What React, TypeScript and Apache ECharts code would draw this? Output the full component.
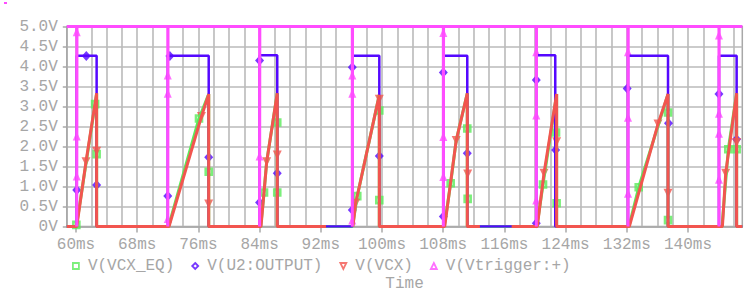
import React, { useEffect, useRef } from 'react';
import * as echarts from 'echarts';

// ---------- data (time in ms, value in V) ----------
const seriesNames = ['V(VCX_EQ)', 'V(U2:OUTPUT)', 'V(VCX)', 'V(Vtrigger:+)'];

const xTickLabels = [60, 68, 76, 84, 92, 100, 108, 116, 124, 132, 140];
const xGridValues = [60, 62, 64, 66, 68, 70, 72, 74, 76, 78, 80, 82, 84, 86, 88, 90, 92, 94, 96, 98, 100, 102, 104, 106, 108, 110, 112, 114, 116, 118, 120, 122, 124, 126, 128, 130, 132, 134, 136, 138, 140, 142, 144, 146];

const timeMin = 58.8;
const timeMax = 147.1;

const vcxEq = [
  [58.8, 0], [60.05, 0], [62.5, 3.06], [62.7, 3.33], [62.7, 0],
  [72.1, 0], [76.08, 2.7], [77.35, 3.31], [77.35, 0],
  [84.15, 0], [84.58, 0.85], [84.93, 1.62], [86.31, 3.33], [86.31, 0],
  [96.15, 0], [96.77, 0.76], [99.65, 3.29], [99.65, 0],
  [108.15, 0], [108.98, 1.08], [109.7, 2.15], [111.15, 3.33], [111.15, 0],
  [120.25, 0], [121.05, 1.05], [122.83, 3.31], [122.83, 0],
  [132.28, 0], [133.56, 0.98], [137.39, 3.31], [137.39, 0],
  [144.45, 0], [145.27, 1.93], [146.36, 3.33], [146.36, 0], [147.1, 0],
];

const u2Output = [
  [58.8, 0], [60.1, 0], [60.1, 4.27], [62.7, 4.27], [62.7, 0],
  [72.0, 0], [72.0, 4.27], [77.35, 4.27], [77.35, 0],
  [84.0, 0], [84.0, 4.28], [86.31, 4.28], [86.31, 0],
  [96.12, 0], [96.12, 4.27], [99.65, 4.27], [99.65, 0],
  [108.02, 0], [108.02, 4.27], [111.15, 4.27], [111.15, 0],
  [120.17, 0], [120.17, 4.28], [122.65, 4.28], [122.65, 0],
  [132.16, 0], [132.16, 4.27], [137.39, 4.27], [137.39, 0],
  [144.05, 0], [144.05, 4.27], [146.36, 4.27], [146.36, 0], [147.1, 0],
];

const vcx = [
  [58.8, 0], [60.1, 0], [61.31, 1.62], [62.7, 3.33], [62.7, 0],
  [72.16, 0], [76.4, 2.75], [77.35, 3.31], [77.35, 0],
  [84.18, 0], [84.58, 0.85], [84.93, 1.62], [86.31, 3.33], [86.31, 0], [92.68, 0], [94.4, '-'],
  [96.2, 0], [96.56, 0.58], [99.65, 3.29], [99.65, 0],
  [108.2, 0], [109.7, 2.15], [111.15, 3.33], [111.15, 0], [112.8, 0], [114.9, '-'],
  [116.95, 0], [120.3, 0], [121.18, 1.33], [122.83, 3.31], [122.83, 0],
  [132.33, 0], [136.08, 2.56], [137.39, 3.31], [137.39, 0],
  [144.5, 0], [144.93, 1.33], [146.36, 3.33], [146.36, 0], [147.1, 0],
];

const vtrigger = [
  [58.8, 5],
  [60.1, 5], [60.1, 0], [60.13, 0], [60.13, 5],
  [72.0, 5], [72.0, 0], [72.03, 0], [72.03, 5],
  [84.0, 5], [84.0, 0], [84.03, 0], [84.03, 5],
  [96.12, 5], [96.12, 0], [96.15, 0], [96.15, 5],
  [108.02, 5], [108.02, 0], [108.05, 0], [108.05, 5],
  [120.17, 5], [120.17, 0], [120.2, 0], [120.2, 5],
  [132.16, 5], [132.16, 0], [132.19, 0], [132.19, 5],
  [144.05, 5], [144.05, 0], [144.08, 0], [144.08, 5],
  [147.1, 5],
];

const vcxEqMarks = [
  [60.05, 0.04], [62.5, 3.06], [62.7, 1.81],
  [76.08, 2.7], [77.35, 1.37],
  [84.58, 0.85], [86.31, 2.6], [86.31, 0.85],
  [96.77, 0.76], [99.65, 2.9], [99.65, 0.66],
  [108.98, 1.08], [111.15, 2.45], [111.2, 0.69],
  [121.05, 1.05], [122.75, 2.35], [122.83, 0.58],
  [133.56, 0.98], [137.39, 2.85], [137.39, 0.16],
  [145.27, 1.93], [146.36, 1.93],
];

const u2OutputMarks = [
  [61.35, 4.26], [60.1, 0.91], [62.7, 1.04],
  [72.27, 4.26], [72.0, 0.76], [77.35, 1.73],
  [84.0, 4.15], [84.0, 0.6], [86.31, 1.33],
  [96.12, 3.98], [96.12, 0.41], [99.65, 1.76],
  [108.02, 3.85], [108.02, 0.25], [111.15, 1.83],
  [120.17, 3.66], [120.17, 0.08], [122.7, 1.91],
  [132.05, 3.45], [137.45, 2.58],
  [144.05, 3.31], [146.36, 2.18],
];

const vcxMarks = [
  [61.31, 1.62], [62.7, 1.88],
  [76.4, 2.75], [77.35, 0.56],
  [84.93, 1.62], [86.31, 1.79],
  [96.56, 0.58], [99.65, 3.18],
  [109.7, 2.15], [111.2, 1.31],
  [121.18, 1.33], [122.83, 2.12],
  [136.08, 2.56], [137.39, 0.83],
  [144.93, 1.33], [146.36, 2.1],
];

const vtriggerMarks = [
  [60.1, 4.87], [60.1, 2.26], [60.1, 1.26],
  [72.0, 3.79], [72.0, 3.33], [72.0, 0.2],
  [84.0, 1.76],
  [96.12, 3.79], [96.12, 3.33], [96.12, 0.16],
  [108.02, 4.85], [108.02, 2.25], [108.02, 1.25],
  [120.17, 4.37], [120.17, 2.79], [120.17, 0.66],
  [132.16, 4.37], [132.16, 2.73], [132.16, 0.83],
  [144.05, 4.79], [144.05, 2.83], [144.05, 2.33], [144.05, 1.18],
];

// ---------- styles ----------
const GREEN = '#5aeb5a';
const BLUE = '#5508ff';
const RED = '#f2554f';
const PINK = '#ff4cff';
const TEXT = '#a6a6a6';
const GRID = '#bababa';
const FONT = '"Liberation Mono", "DejaVu Sans Mono", monospace';
const DOWN_TRI = 'path://M0,0L10,0L5,10Z';

export default function App() {
  const ref = useRef<HTMLDivElement>(null);

  useEffect(() => {
    if (!ref.current) return;
    const chart = echarts.init(ref.current, null, { renderer: 'svg' });
    const textStyle = { color: TEXT, fontFamily: FONT, fontSize: 16 };
    const option: any = {
      animation: false,
      backgroundColor: '#ffffff',
      grid: {
        left: 66.8, right: 9.7, top: 26.5, bottom: 69.5,
        show: true, borderColor: '#a8a8a8', borderWidth: 1.5,
        backgroundColor: 'transparent', containLabel: false, outerBoundsMode: 'none',
      },
      xAxis: [
        {
          type: 'value', min: timeMin, max: timeMax, position: 'bottom',
          axisLine: { show: true, onZero: false, lineStyle: { color: '#a8a8a8', width: 1.5 } },
          axisTick: { show: true, customValues: xTickLabels, length: 6, lineStyle: { color: '#a8a8a8', width: 1.5 } },
          axisLabel: { customValues: xTickLabels, formatter: (v: number) => `${Math.round(v)}ms`, margin: 10, ...textStyle },
          splitLine: { show: false },
          name: 'Time', nameLocation: 'middle', nameGap: 49.5, nameTextStyle: textStyle,
        },
        {
          type: 'value', min: timeMin, max: timeMax, position: 'top',
          axisLine: { show: false },
          axisTick: { show: false, customValues: xGridValues },
          axisLabel: { show: false },
          splitLine: { show: true, lineStyle: { color: GRID, width: 1.6 } },
        },
      ],
      yAxis: {
        type: 'value', min: 0, max: 5, interval: 0.5,
        axisLine: { show: true, onZero: false, lineStyle: { color: '#a8a8a8', width: 1.5 } },
        axisTick: { show: true, length: 4, lineStyle: { color: '#a8a8a8', width: 1.5 } },
        axisLabel: { formatter: (v: number) => (v === 0 ? '0V' : `${v.toFixed(1)}V`), margin: 9, ...textStyle },
        splitLine: { show: true, lineStyle: { color: GRID, width: 1.6 } },
      },
      legend: {
        left: 72, top: 258, itemGap: 17, itemWidth: 6, itemHeight: 6, padding: 0,
        selectedMode: false,
        textStyle: { ...textStyle, padding: [0, 0, 0, 4] },
        data: [
          { name: seriesNames[0], icon: 'rect', itemStyle: { color: 'rgba(0,0,0,0)', borderColor: GREEN, borderWidth: 1.8 } },
          { name: seriesNames[1], icon: 'diamond', itemStyle: { color: 'rgba(0,0,0,0)', borderColor: BLUE, borderWidth: 1.8 } },
          { name: seriesNames[2], icon: DOWN_TRI, itemStyle: { color: 'rgba(0,0,0,0)', borderColor: RED, borderWidth: 1.8 } },
          { name: seriesNames[3], icon: 'triangle', itemStyle: { color: 'rgba(0,0,0,0)', borderColor: PINK, borderWidth: 1.8 } },
        ],
      },
      series: [
        { name: 'vcxEqTrace', type: 'line', data: vcxEq, symbol: 'none', lineStyle: { color: GREEN, width: 3 }, itemStyle: { color: GREEN } },
        { name: 'u2Trace', type: 'line', data: u2Output, symbol: 'none', lineStyle: { color: BLUE, width: 2.5 }, itemStyle: { color: BLUE } },
        { name: 'vcxTrace', type: 'line', data: vcx, symbol: 'none', lineStyle: { color: RED, width: 3 }, itemStyle: { color: RED } },
        { name: 'vtrigTrace', type: 'line', data: vtrigger, symbol: 'none', lineStyle: { color: PINK, width: 3 }, itemStyle: { color: PINK } },
        { name: seriesNames[0], type: 'scatter', data: vcxEqMarks, symbol: 'rect', symbolSize: 6, itemStyle: { color: 'rgba(0,0,0,0)', borderColor: GREEN, borderWidth: 2.6 } },
        { name: seriesNames[1], type: 'scatter', data: u2OutputMarks, symbol: 'diamond', symbolSize: [9, 10], itemStyle: { color: BLUE } },
        { name: seriesNames[2], type: 'scatter', data: vcxMarks, symbol: DOWN_TRI, symbolSize: [9, 9], itemStyle: { color: RED } },
        { name: seriesNames[3], type: 'scatter', data: vtriggerMarks, symbol: 'triangle', symbolSize: [8, 9], itemStyle: { color: PINK } },
      ],
      graphic: [
        { type: 'rect', shape: { x: 4, y: 2, width: 3, height: 2 }, style: { fill: PINK } },
      ],
    };
    chart.setOption(option);
    return () => chart.dispose();
  }, []);

  return <div ref={ref} style={{ position: 'fixed', left: 0, top: 0, width: 752, height: 296 }} />;
}
